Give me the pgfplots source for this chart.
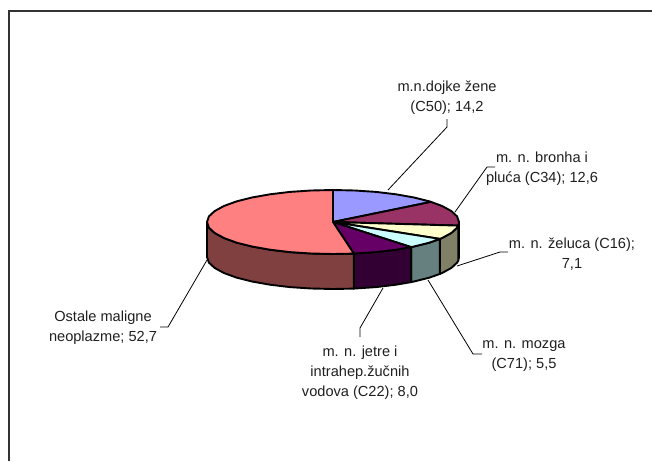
\documentclass[border=0pt]{standalone}
\usepackage{fontspec}
\setmainfont{Liberation Sans}
\usepackage{pgfplots}
\pgfplotsset{compat=1.18}
\definecolor{top1}{HTML}{9999FF}
\definecolor{top2}{HTML}{993366}
\definecolor{top3}{HTML}{FFFFCC}
\definecolor{top4}{HTML}{CCFFFF}
\definecolor{top5}{HTML}{660066}
\definecolor{top6}{HTML}{FF8080}
\definecolor{side2}{HTML}{4D1933}
\definecolor{side3}{HTML}{808066}
\definecolor{side4}{HTML}{668080}
\definecolor{side5}{HTML}{330033}
\definecolor{side6}{HTML}{804040}
\tikzset{
  pie/.style={draw=black, line width=1.9pt, line join=round, fill=#1},
  lead/.style={draw=black, line width=0.8pt, line join=miter},
  lab/.style={align=center, inner sep=0pt, text=black!88, font=\fontsize{14.6}{20}\selectfont},
}
\begin{document}
\begin{tikzpicture}
\useasboundingbox (0,0) rectangle (652pt,461pt);
\begin{axis}[
  at={(0,0)}, anchor=south west,
  scale only axis, width=652pt, height=461pt,
  xmin=0, xmax=652, ymin=0, ymax=461, y dir=reverse,
  hide axis, clip=false,
]
% frame (top and left edges)
\addplot[draw=black!80, line width=1.8pt] coordinates {(9,461) (9,11) (652,11)};
% sides
\addplot[pie=side2] coordinates {(459,222) (458.2,225.6) (458.2,260.6) (459,257)} -- cycle;
\addplot[pie=side3] coordinates {(458.2,225.6) (457.1,227.6) (451.4,232.9) (442.1,238) (439.9,238.9)
  (439.9,273.9) (442.1,273) (451.4,267.9) (457.1,262.6) (458.2,260.6)} -- cycle;
\addplot[pie=side4] coordinates {(439.9,238.9) (429.5,242.6) (414,246.5) (411.1,247.1)
  (411.1,282.1) (414,281.5) (429.5,277.6) (439.9,273.9)} -- cycle;
\addplot[pie=side5] coordinates {(411.1,247.1) (396,249.7) (376.1,252.1) (354.9,253.5) (353.9,253.6)
  (353.9,288.6) (354.9,288.5) (376.1,287.1) (396,284.7) (411.1,282.1)} -- cycle;
\addplot[pie=side6] coordinates {(353.9,253.6) (333,254) (311.1,253.5) (289.9,252.1) (270,249.7) (252,246.5)
  (236.5,242.6) (223.9,238) (214.6,232.9) (208.9,227.6) (207,222)
  (207,257) (208.9,262.6) (214.6,267.9) (223.9,273) (236.5,277.6) (252,281.5) (270,284.7)
  (289.9,287.1) (311.1,288.5) (333,289) (353.9,288.6)} -- cycle;
% tops
\addplot[pie=top1] coordinates {(333,222) (333,190) (354.9,190.5) (376.1,191.9) (396,194.3) (414,197.5)
  (429.5,201.4) (431.05,201.9)} -- cycle;
\addplot[pie=top2] coordinates {(333,222) (431.05,201.9) (442.1,206) (451.4,211.1) (457.1,216.4) (459,222)
  (458.2,225.6)} -- cycle;
\addplot[pie=top3] coordinates {(333,222) (458.2,225.6) (457.1,227.6) (451.4,232.9) (442.1,238) (439.9,238.9)} -- cycle;
\addplot[pie=top4] coordinates {(333,222) (439.9,238.9) (429.5,242.6) (414,246.5) (411.1,247.1)} -- cycle;
\addplot[pie=top5] coordinates {(333,222) (411.1,247.1) (396,249.7) (376.1,252.1) (354.9,253.5) (353.9,253.6)} -- cycle;
\addplot[pie=top6] coordinates {(333,222) (353.9,253.6) (333,254) (311.1,253.5) (289.9,252.1) (270,249.7)
  (252,246.5) (236.5,242.6) (223.9,238) (214.6,232.9) (208.9,227.6) (207,222) (208.9,216.4) (214.6,211.1)
  (223.9,206) (236.5,201.4) (252,197.5) (270,194.3) (289.9,191.9) (311.1,190.5) (333,190)} -- cycle;
% leader lines
\addplot[lead] coordinates {(447,119) (447,127) (388,190)};
\addplot[lead] coordinates {(495,167) (487,167) (455,212)};
\addplot[lead] coordinates {(508,252) (500,252) (457,266)};
\addplot[lead] coordinates {(482,354) (473,354) (428,280)};
\addplot[lead] coordinates {(360,337) (360,328) (383,288)};
\addplot[lead] coordinates {(160,327) (168,327) (207,260)};
% labels
\node[lab] at (axis cs:447,97.5) {m.n.dojke žene\\(C50); 14,2};
\node[lab] at (axis cs:542,169) {m. n. bronha i\\pluća (C34); 12,6};
\node[lab] at (axis cs:572,254) {m. n. želuca (C16);\\7,1};
\node[lab] at (axis cs:524,356) {m. n. mozga\\(C71); 5,5};
\node[lab] at (axis cs:360,372.5) {m. n. jetre i\\intrahep.žučnih\\vodova (C22); 8,0};
\node[lab] at (axis cs:103,328) {Ostale maligne\\neoplazme; 52,7};
\end{axis}
\end{tikzpicture}
\end{document}
